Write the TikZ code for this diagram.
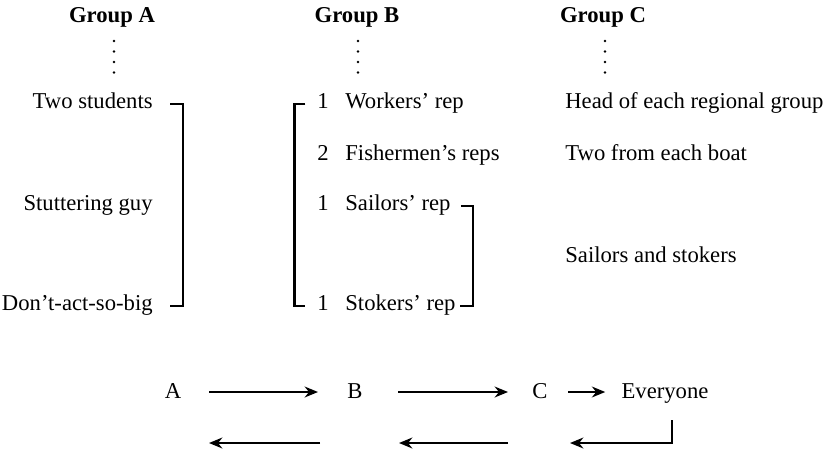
\documentclass[tikz,border=0pt]{standalone}
\usepackage{fontspec}
\setmainfont{Liberation Serif}
\usetikzlibrary{arrows.meta}

\begin{document}
\begin{tikzpicture}
\tikzstyle{every node}=[inner sep=0pt, font=\fontsize{12.9}{15}\selectfont]
\tikzstyle{head}=[font=\fontsize{12.9}{15}\selectfont\bfseries]
\tikzstyle{bracket}=[line width=1.4pt]
\tikzstyle{flow}=[line width=1.1pt, -{Stealth[length=7.6pt,width=6.2pt]}]
\useasboundingbox (0,0) rectangle (16.52,-9.06);
\begin{scope}
	% column heads
	\node[head] (ga) at (2.24,-0.34) {Group A};
	\node[head] (gb) at (7.14,-0.34) {Group B};
	\node[head] (gc) at (12.06,-0.34) {Group C};
	\foreach \x in {2.28,7.16,12.1}
		\foreach \y in {-0.82,-1.03,-1.24,-1.45}
			\fill (\x,\y) circle (0.028);

	% group A
	\node[anchor=base east] (two) at (3.06,-2.16) {Two students};
	\node[anchor=base east] (stut) at (3.06,-4.2) {Stuttering guy};
	\node[anchor=base east] (dont) at (3.06,-6.2) {Don't-act-so-big};
	\draw[bracket] ([xshift=0.34cm]two.mid east) -- ++(0.26,0) |- ([xshift=0.34cm]dont.mid east);

	% group B
	\node[anchor=base] (n1) at (6.46,-2.16) {1};
	\node[anchor=base] (n2) at (6.46,-3.2) {2};
	\node[anchor=base] (n3) at (6.46,-4.2) {1};
	\node[anchor=base] (n4) at (6.46,-6.2) {1};
	\node[anchor=base west] (wrk) at (6.9,-2.16) {Workers' rep};
	\node[anchor=base west] (fish) at (6.9,-3.2) {Fishermen's reps};
	\node[anchor=base west] (sai) at (6.9,-4.2) {Sailors' rep};
	\node[anchor=base west] (sto) at (6.9,-6.2) {Stokers' rep};
	\draw[bracket] ([xshift=-0.23cm]n1.mid west) -- ++(-0.22,0) |- ([xshift=-0.23cm]n4.mid west);
	\draw[bracket] ([xshift=0.2cm]sai.mid east) -- ++(0.24,0) |- ([xshift=0.08cm]sto.mid east);

	% group C
	\node[anchor=base west] (head) at (11.3,-2.16) {Head of each regional group};
	\node[anchor=base west] (boat) at (11.3,-3.2) {Two from each boat};
	\node[anchor=base west] (ss) at (11.3,-5.24) {Sailors and stokers};

	% flow
	\node[anchor=base] (a) at (3.46,-7.96) {A};
	\node[anchor=base] (b) at (7.1,-7.96) {B};
	\node[anchor=base] (c) at (10.8,-7.96) {C};
	\node[anchor=base] (all) at (13.3,-7.96) {Everyone};
	\coordinate (top) at (0,-7.84);
	\coordinate (low) at (0,-8.86);
	\coordinate (turn) at (13.44,-8.4);

	\draw[flow] ([xshift=0.72cm]a.center |- top) -- ([xshift=-0.74cm]b.center |- top);
	\draw[flow] ([xshift=0.86cm]b.center |- top) -- ([xshift=-0.64cm]c.center |- top);
	\draw[flow] ([xshift=0.56cm]c.center |- top) -- ([xshift=-0.32cm]all.west |- top);
	\draw[flow] (turn) -- (turn |- low) -- ([xshift=0.6cm]c.center |- low);
	\draw[flow] ([xshift=-0.64cm]c.center |- low) -- ([xshift=0.88cm]b.center |- low);
	\draw[flow] ([xshift=-0.7cm]b.center |- low) -- ([xshift=0.72cm]a.center |- low);
\end{scope}
\end{tikzpicture}
\end{document}
